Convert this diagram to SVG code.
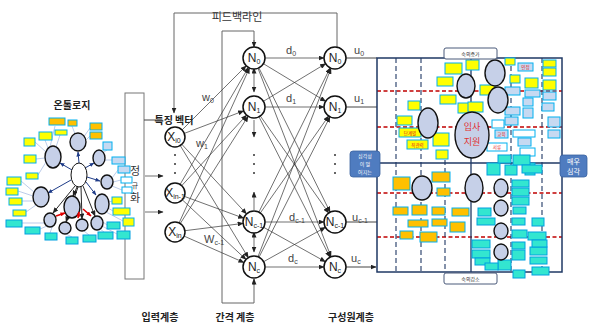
<svg xmlns="http://www.w3.org/2000/svg" width="589" height="327" viewBox="0 0 589 327">
<defs>
<marker id="ar" markerWidth="6" markerHeight="5" refX="5.5" refY="2.5" orient="auto" markerUnits="userSpaceOnUse"><path d="M0,0 L6,2.5 L0,5 z" fill="#222"/></marker>
<marker id="arb" markerWidth="5" markerHeight="4" refX="4.5" refY="2" orient="auto" markerUnits="userSpaceOnUse"><path d="M0,0 L5,2 L0,4 z" fill="#1f3c88"/></marker>
<marker id="arr" markerWidth="5" markerHeight="4" refX="4.5" refY="2" orient="auto" markerUnits="userSpaceOnUse"><path d="M0,0 L5,2 L0,4 z" fill="#e00000"/></marker>
<marker id="ars" markerWidth="6" markerHeight="5" refX="0.5" refY="2.5" orient="auto-start-reverse" markerUnits="userSpaceOnUse"><path d="M0,0 L6,2.5 L0,5 z" fill="#222"/></marker>
</defs>
<style>
.kr{font-family:"Noto Sans CJK KR","Noto Sans",sans-serif}
.node{fill:#fff;stroke:#111;stroke-width:1.5}
.net{stroke:#333;stroke-width:0.7;fill:none}
.fb{stroke:#666;stroke-width:1;fill:none}
.lbl{font-family:"Liberation Sans",Arial,sans-serif;font-size:12px;fill:#222;text-anchor:middle}
.sub{font-size:7px}
.wl{font-family:"Liberation Sans",Arial,sans-serif;font-size:11px;fill:#444}
.bold{font-family:"Noto Sans CJK KR",sans-serif;font-weight:bold;font-size:10px;fill:#222;text-anchor:middle}
.ell{fill:#c6d0e8;stroke:#111;stroke-width:1.4}
.oc{fill:#fff;stroke:#111;stroke-width:1}
.yb{fill:#ffff00;stroke:#00b0f0;stroke-width:1}
.ob{fill:#ffc000;stroke:#00b0f0;stroke-width:1}
.lb{fill:#c6d9f1;stroke:#00b0f0;stroke-width:1}
.wb{fill:#ffffff;stroke:#00b0f0;stroke-width:1}
.tb{fill:#33e6d0;stroke:#00a0e0;stroke-width:1}
.ol{stroke:#8ea9db;stroke-width:0.6;fill:none}
.on{stroke:#1f3c88;stroke-width:1;fill:none}
.border{stroke:#1f3864;stroke-width:1.5;fill:none}
.vd{stroke:#1f3864;stroke-width:1.1;stroke-dasharray:5,3;fill:none}
.rd{stroke:#c00000;stroke-width:1.5;stroke-dasharray:4,2.5;fill:none}
.rt{font-family:"Noto Sans CJK KR",sans-serif;font-size:4.5px;fill:#e02020;text-anchor:middle}
.bt{font-family:"Noto Sans CJK KR",sans-serif;fill:#fff;text-anchor:middle}
</style>
<rect width="589" height="327" fill="#fff"/>

<!-- normalization box -->
<g id="normalize">
<rect x="125" y="93" width="19" height="186" fill="#fff" stroke="#777" stroke-width="1"/>
<text x="135" y="175" class="kr" font-size="11" fill="#333" text-anchor="middle">정</text>
<text x="135" y="188" class="kr" font-size="7" fill="#333" text-anchor="middle">규</text>
<text x="135" y="202" class="kr" font-size="11" fill="#333" text-anchor="middle">화</text>
</g>

<!-- ontology -->
<g id="ontology">
<text x="72" y="109" class="bold" font-size="12">온톨로지</text>
<g class="ol">
<line x1="50" y1="147" x2="55" y2="126"/><line x1="75" y1="134" x2="72" y2="126"/><line x1="83" y1="138" x2="90" y2="128"/><line x1="84" y1="142" x2="90" y2="136"/>
<line x1="48" y1="148" x2="45" y2="140"/><line x1="56" y1="147" x2="60" y2="135"/><line x1="46" y1="152" x2="35" y2="142"/><line x1="45" y1="158" x2="36" y2="159"/>
<line x1="46" y1="162" x2="38" y2="175"/><line x1="34" y1="192" x2="21" y2="181"/><line x1="33" y1="196" x2="18" y2="191"/><line x1="34" y1="201" x2="22" y2="201"/><line x1="36" y1="205" x2="26" y2="212"/>
<line x1="104" y1="152" x2="107" y2="150"/><line x1="105" y1="160" x2="112" y2="160"/><line x1="112" y1="178" x2="118" y2="170"/><line x1="113" y1="182" x2="121" y2="180"/><line x1="112" y1="186" x2="122" y2="190"/>
<line x1="108" y1="202" x2="113" y2="201"/><line x1="108" y1="208" x2="113" y2="211"/><line x1="106" y1="212" x2="123" y2="221"/>
<line x1="44" y1="223" x2="22" y2="223"/><line x1="47" y1="226" x2="40" y2="229"/><line x1="52" y1="227" x2="50" y2="233"/><line x1="66" y1="234" x2="72" y2="237"/><line x1="84" y1="231" x2="89" y2="235"/><line x1="100" y1="229" x2="104" y2="232"/><line x1="103" y1="222" x2="107" y2="225"/><line x1="102" y1="226" x2="117" y2="234"/>
</g>
<g class="on">
<line x1="72" y1="170" x2="60" y2="163" marker-end="url(#arb)"/>
<line x1="79" y1="163" x2="78" y2="152" marker-end="url(#arb)"/>
<line x1="85" y1="168" x2="94" y2="163" marker-end="url(#arb)"/>
<line x1="87" y1="177" x2="100" y2="181" marker-end="url(#arb)"/>
<line x1="86" y1="182" x2="96" y2="195" marker-end="url(#arb)"/>
<line x1="71" y1="180" x2="48" y2="193" marker-end="url(#arb)"/>
</g>
<g stroke="#111" stroke-width="0.9" fill="none">
<line x1="77" y1="187" x2="73" y2="196" marker-end="url(#ar)"/>
<line x1="75" y1="186" x2="53" y2="213" marker-end="url(#ar)"/>
<line x1="78" y1="187" x2="66" y2="222" marker-end="url(#ar)"/>
<line x1="81" y1="187" x2="82" y2="219" marker-end="url(#ar)"/>
<line x1="83" y1="186" x2="95" y2="216" marker-end="url(#ar)"/>
</g>
<ellipse cx="79" cy="175" rx="8" ry="12" class="oc"/>
<ellipse cx="53" cy="157" rx="8" ry="11" class="ell"/>
<ellipse cx="78" cy="142" rx="8" ry="9" class="ell"/>
<ellipse cx="99" cy="158" rx="6" ry="8" class="ell"/>
<ellipse cx="107" cy="182" rx="6" ry="7" class="ell"/>
<ellipse cx="102" cy="204" rx="7" ry="10" class="ell"/>
<ellipse cx="72" cy="207" rx="8" ry="11" class="ell"/>
<ellipse cx="41" cy="197" rx="8" ry="10" class="ell"/>
<ellipse cx="50" cy="220" rx="6" ry="7" class="ell"/>
<ellipse cx="65" cy="228" rx="6" ry="6" class="ell"/>
<ellipse cx="82" cy="225" rx="6" ry="6" class="ell"/>
<ellipse cx="97" cy="223" rx="6" ry="7" class="ell"/>
<g stroke="#e00000" stroke-width="1.6" fill="none">
<line x1="56" y1="216" x2="65" y2="213" marker-end="url(#arr)"/>
<line x1="78" y1="218" x2="79" y2="212" marker-end="url(#arr)"/>
<line x1="83" y1="209" x2="91" y2="216" marker-end="url(#arr)"/>
</g>
<rect x="49" y="118" width="16" height="7" class="ob"/><rect x="68" y="120" width="9" height="6" class="ob"/>
<rect x="90" y="123" width="12" height="7" class="ob"/><rect x="90" y="132" width="12" height="7" class="ob"/>
<rect x="39" y="132" width="13" height="8" class="yb"/><rect x="55" y="130" width="12" height="5" class="yb"/>
<rect x="24" y="138" width="11" height="8" class="yb"/><rect x="24" y="155" width="12" height="8" class="yb"/>
<rect x="26" y="173" width="12" height="6" class="yb"/><rect x="7" y="177" width="14" height="8" class="yb"/>
<rect x="6" y="188" width="12" height="7" class="yb"/><rect x="9" y="198" width="13" height="7" class="yb"/>
<rect x="13" y="210" width="13" height="6" class="yb"/><rect x="113" y="208" width="17" height="7" class="yb"/>
<rect x="123" y="218" width="11" height="8" class="yb"/><rect x="112" y="197" width="10" height="7" class="yb"/>
<rect x="103" y="142" width="9" height="8" class="lb"/><rect x="112" y="157" width="13" height="7" class="lb"/>
<rect x="118" y="166" width="12" height="7" class="lb"/><rect x="121" y="177" width="11" height="6" class="wb"/>
<rect x="122" y="187" width="10" height="6" class="wb"/>
<rect x="6" y="220" width="16" height="7" class="tb"/><rect x="25" y="227" width="15" height="7" class="tb"/>
<rect x="45" y="233" width="12" height="7" class="tb"/><rect x="66" y="237" width="12" height="7" class="tb"/>
<rect x="83" y="235" width="13" height="7" class="tb"/><rect x="98" y="232" width="15" height="7" class="tb"/>
<rect x="107" y="222" width="13" height="7" class="tb"/><rect x="117" y="231" width="13" height="8" class="tb"/>
</g>

<!-- connectors of the network -->
<g id="connectors">
<line x1="144" y1="120" x2="156" y2="120" stroke="#444" stroke-width="1"/>
<line x1="145" y1="176" x2="163" y2="176" class="net" stroke-width="1" marker-end="url(#ar)"/>
<line x1="145" y1="212" x2="163" y2="212" class="net" stroke-width="1" marker-end="url(#ar)"/>
<polyline points="337,47 337,13 174,13 174,113" class="fb" marker-end="url(#ar)"/>
<polyline points="254,46 254,31 222,31 222,303 254,303 254,279" class="fb"/>
<line x1="254" y1="40" x2="254" y2="47" class="fb" marker-end="url(#ar)"/>
<line x1="254" y1="285" x2="254" y2="279" class="fb" marker-end="url(#ar)"/>
<g class="net" marker-end="url(#ar)">
<line x1="182.1" y1="129.9" x2="246.2" y2="65.8"/>
<line x1="184.3" y1="133.4" x2="243.7" y2="110.9"/>
<line x1="181.8" y1="144.3" x2="246.5" y2="213.9"/>
<line x1="180.2" y1="145.5" x2="248.3" y2="257.6"/>
<line x1="180.1" y1="184.4" x2="248.4" y2="67.5"/>
<line x1="181.8" y1="185.6" x2="246.6" y2="115.1"/>
<line x1="184.4" y1="196.4" x2="243.7" y2="218.2"/>
<line x1="182.3" y1="199.8" x2="246.0" y2="259.5"/>
<line x1="179.1" y1="222.9" x2="249.5" y2="68.0"/>
<line x1="180.3" y1="223.5" x2="248.1" y2="116.3"/>
<line x1="184.9" y1="230.7" x2="243.1" y2="223.4"/>
<line x1="184.1" y1="236.1" x2="243.9" y2="262.5"/>
<line x1="265" y1="58" x2="324" y2="58"/>
<line x1="263.4" y1="63.7" x2="325.6" y2="101.3"/>
<line x1="258.9" y1="67.9" x2="330.1" y2="212.1"/>
<line x1="258.0" y1="68.3" x2="331.0" y2="256.7"/>
<line x1="263.4" y1="101.3" x2="325.6" y2="63.7"/>
<line x1="265" y1="107" x2="324" y2="107"/>
<line x1="260.3" y1="116.0" x2="328.7" y2="213.0"/>
<line x1="259.0" y1="116.8" x2="330.0" y2="257.2"/>
<line x1="258.9" y1="212.1" x2="330.1" y2="67.9"/>
<line x1="260.3" y1="213.0" x2="328.7" y2="116.0"/>
<line x1="265" y1="222" x2="324" y2="222"/>
<line x1="263.6" y1="227.3" x2="325.4" y2="261.7"/>
<line x1="258.0" y1="256.7" x2="331.0" y2="68.3"/>
<line x1="259.0" y1="257.2" x2="330.0" y2="116.8"/>
<line x1="263.6" y1="261.7" x2="325.4" y2="227.3"/>
<line x1="265" y1="267" x2="324" y2="267"/>
</g>
<g class="net" stroke-width="0.9">
<line x1="254" y1="73" x2="254" y2="92" marker-start="url(#ars)" marker-end="url(#ar)"/>
<line x1="254" y1="120" x2="254" y2="137" marker-end="url(#ar)"/>
<line x1="254" y1="210" x2="254" y2="192" marker-end="url(#ar)"/>
<line x1="254" y1="237" x2="254" y2="252" marker-start="url(#ars)" marker-end="url(#ar)"/>
</g>
<g stroke="#444" stroke-width="1">
<line x1="346" y1="58" x2="377" y2="58"/>
<line x1="346" y1="107" x2="377" y2="107"/>
<line x1="346" y1="222" x2="377" y2="222"/>
<line x1="346" y1="267" x2="376" y2="267" marker-end="url(#ar)"/>
</g>
<g fill="#333">
<circle cx="175" cy="155" r="1"/><circle cx="175" cy="164" r="1"/><circle cx="175" cy="173" r="1"/>
<circle cx="254" cy="155" r="1"/><circle cx="254" cy="164" r="1"/><circle cx="254" cy="173" r="1"/>
<circle cx="335" cy="155" r="1"/><circle cx="335" cy="164" r="1"/><circle cx="335" cy="173" r="1"/>
</g>
</g>

<text x="237" y="21" class="kr" font-size="11" fill="#333" text-anchor="middle">피드백라인</text>
<text x="174" y="124" class="bold" font-size="10">특징 벡터</text>

<!-- input nodes -->
<g id="x0"><circle cx="175" cy="137" r="10" class="node"/><text x="174" y="141" class="lbl" font-size="11">X<tspan class="sub" dy="2">i0</tspan></text></g>
<g id="x1"><circle cx="175" cy="193" r="10" class="node"/><text x="175" y="197" class="lbl" font-size="11">X<tspan class="sub" dy="2">in-1</tspan></text></g>
<g id="x2"><circle cx="175" cy="232" r="10" class="node"/><text x="175" y="236" class="lbl" font-size="11">X<tspan class="sub" dy="2">in</tspan></text></g>
<!-- hidden nodes -->
<g id="h0"><circle cx="254" cy="58" r="11" class="node"/><text x="254" y="62" class="lbl">N<tspan class="sub" dy="2">0</tspan></text></g>
<g id="h1"><circle cx="254" cy="107" r="11" class="node"/><text x="254" y="111" class="lbl">N<tspan class="sub" dy="2">1</tspan></text></g>
<g id="h2"><circle cx="254" cy="222" r="11" class="node"/><text x="254" y="226" class="lbl">N<tspan class="sub" dy="2">c-1</tspan></text></g>
<g id="h3"><circle cx="254" cy="267" r="11" class="node"/><text x="254" y="271" class="lbl">N<tspan class="sub" dy="2">c</tspan></text></g>
<!-- output nodes -->
<g id="o0"><circle cx="335" cy="58" r="11" class="node"/><text x="335" y="62" class="lbl">N<tspan class="sub" dy="2">0</tspan></text></g>
<g id="o1"><circle cx="335" cy="107" r="11" class="node"/><text x="335" y="111" class="lbl">N<tspan class="sub" dy="2">1</tspan></text></g>
<g id="o2"><circle cx="335" cy="222" r="11" class="node"/><text x="335" y="226" class="lbl">N<tspan class="sub" dy="2">c-1</tspan></text></g>
<g id="o3"><circle cx="335" cy="267" r="11" class="node"/><text x="335" y="271" class="lbl">N<tspan class="sub" dy="2">c</tspan></text></g>

<!-- weight labels -->
<text x="202" y="101" class="wl">w<tspan font-size="7" dy="2">0</tspan></text>
<text x="196" y="147" class="wl">w<tspan font-size="7" dy="2">1</tspan></text>
<text x="204" y="243" class="wl">W<tspan font-size="7" dy="2">c-1</tspan></text>
<text x="286" y="54" class="wl">d<tspan font-size="7" dy="2">0</tspan></text>
<text x="286" y="102" class="wl">d<tspan font-size="7" dy="2">1</tspan></text>
<text x="289" y="221" class="wl">d<tspan font-size="7" dy="2">c-1</tspan></text>
<text x="288" y="262" class="wl">d<tspan font-size="7" dy="2">c</tspan></text>
<text x="354" y="54" class="wl">u<tspan font-size="7" dy="2">0</tspan></text>
<text x="354" y="102" class="wl">u<tspan font-size="7" dy="2">1</tspan></text>
<text x="352" y="221" class="wl">u<tspan font-size="7" dy="2">c-1</tspan></text>
<text x="351" y="262" class="wl">u<tspan font-size="7" dy="2">c</tspan></text>

<!-- layer labels -->
<text x="160" y="321" class="bold">입력계층</text>
<text x="235" y="321" class="bold">간격 계층</text>
<text x="351" y="321" class="bold">구성원계층</text>

<!-- right panel -->
<g id="panel">
<line x1="377" y1="91" x2="562" y2="91" class="rd"/>
<line x1="377" y1="127" x2="562" y2="127" class="rd"/>
<line x1="377" y1="193" x2="562" y2="193" class="rd"/>
<line x1="377" y1="237" x2="562" y2="237" class="rd"/>
<line x1="396" y1="58" x2="396" y2="272" class="vd"/>
<line x1="421" y1="58" x2="421" y2="272" class="vd"/>
<line x1="445" y1="160" x2="445" y2="272" class="vd"/>
<line x1="511" y1="58" x2="511" y2="272" class="vd"/>
<line x1="542" y1="58" x2="542" y2="272" class="vd"/>
<line x1="471" y1="58" x2="471" y2="272" stroke="#1f3864" stroke-width="1.3"/>
<line x1="377" y1="163" x2="562" y2="163" stroke="#1f3864" stroke-width="1.5"/>
<rect x="377" y="58" width="185" height="214" class="border"/>

<rect x="445" y="63" width="17" height="11" class="yb"/><rect x="437" y="77" width="16" height="9" class="yb"/>
<rect x="440" y="95" width="16" height="9" class="yb"/><rect x="458" y="103" width="16" height="10" class="yb"/>
<rect x="408" y="101" width="12" height="9" class="yb"/><rect x="397" y="116" width="15" height="9" class="yb"/>
<rect x="399" y="128" width="22" height="9" class="yb"/><rect x="407" y="140" width="21" height="9" class="yb"/>
<rect x="433" y="133" width="16" height="13" class="yb"/><rect x="436" y="150" width="12" height="9" class="yb"/>
<text x="410" y="135" class="rt">단계별</text>
<text x="417.5" y="147" class="rt">직관력</text>
<rect x="466" y="60" width="13" height="10" class="yb"/><rect x="505" y="58" width="10" height="7" class="yb"/>
<rect x="510" y="75" width="10" height="8" class="yb"/><rect x="525" y="78" width="13" height="10" class="yb"/>
<rect x="543" y="60" width="13" height="7" class="yb"/><rect x="543" y="68" width="13" height="8" class="yb"/>
<rect x="543" y="80" width="13" height="10" class="yb"/><rect x="480" y="85" width="15" height="10" class="yb"/>
<rect x="468" y="102" width="15" height="10" class="yb"/>
<rect x="518" y="63" width="15" height="8" class="lb"/>
<text x="525.5" y="69" class="rt">인정</text>
<rect x="505" y="87" width="15" height="8" class="lb"/><rect x="525" y="90" width="15" height="7" class="lb"/>
<rect x="543" y="92" width="13" height="8" class="lb"/><rect x="505" y="107" width="15" height="8" class="lb"/>
<rect x="523" y="98" width="10" height="8" class="lb"/><rect x="523" y="108" width="10" height="10" class="lb"/>
<rect x="505" y="117" width="13" height="8" class="lb"/><rect x="542" y="103" width="12" height="8" class="lb"/>
<rect x="548" y="117" width="12" height="10" class="lb"/><rect x="492" y="120" width="12" height="8" class="wb"/>
<rect x="495" y="130" width="13" height="8" class="lb"/><rect x="513" y="130" width="22" height="7" class="wb"/>
<rect x="548" y="130" width="12" height="8" class="lb"/><rect x="487" y="143" width="20" height="8" class="wb"/>
<rect x="520" y="148" width="15" height="8" class="wb"/><rect x="518" y="138" width="13" height="8" class="lb"/>
<text x="501.5" y="136" class="rt">교육</text>
<text x="497" y="149" class="rt">서류</text>
<rect x="393" y="177" width="17" height="13" class="ob"/><rect x="432" y="172" width="18" height="10" class="ob"/>
<rect x="437" y="188" width="13" height="8" class="ob"/><rect x="393" y="207" width="15" height="8" class="ob"/>
<rect x="412" y="205" width="15" height="10" class="ob"/><rect x="432" y="207" width="13" height="8" class="ob"/>
<rect x="452" y="208" width="17" height="8" class="ob"/><rect x="408" y="220" width="20" height="7" class="ob"/>
<rect x="432" y="219" width="15" height="7" class="ob"/><rect x="450" y="222" width="15" height="10" class="ob"/>
<rect x="400" y="231" width="13" height="8" class="ob"/><rect x="420" y="232" width="17" height="10" class="ob"/>
<rect x="487" y="163" width="13" height="12" class="tb"/><rect x="505" y="165" width="12" height="10" class="tb"/>
<rect x="525" y="163" width="10" height="12" class="tb"/><rect x="498" y="155" width="13" height="8" class="tb"/>
<rect x="513" y="155" width="17" height="10" class="tb"/><rect x="522" y="165" width="20" height="8" class="tb"/>
<rect x="512" y="180" width="17" height="7" class="tb"/><rect x="512" y="188" width="17" height="8" class="tb"/>
<rect x="512" y="197" width="17" height="8" class="tb"/><rect x="513" y="207" width="13" height="7" class="tb"/>
<rect x="477" y="218" width="18" height="7" class="tb"/><rect x="478" y="208" width="13" height="8" class="tb"/>
<rect x="512" y="218" width="13" height="7" class="tb"/><rect x="532" y="218" width="12" height="8" class="tb"/>
<rect x="528" y="232" width="18" height="8" class="tb"/><rect x="512" y="230" width="15" height="8" class="tb"/>
<rect x="472" y="240" width="18" height="8" class="tb"/><rect x="472" y="250" width="18" height="8" class="tb"/>
<rect x="475" y="258" width="15" height="7" class="tb"/><rect x="512" y="242" width="13" height="7" class="tb"/>
<rect x="512" y="250" width="13" height="10" class="tb"/><rect x="530" y="247" width="17" height="8" class="tb"/>
<rect x="530" y="257" width="17" height="7" class="tb"/><rect x="532" y="267" width="17" height="8" class="tb"/>
<rect x="498" y="260" width="13" height="10" class="tb"/><rect x="485" y="263" width="13" height="7" class="tb"/>
<rect x="513" y="270" width="12" height="8" class="tb"/><rect x="532" y="240" width="15" height="7" class="tb"/>

<ellipse cx="466" cy="86" rx="9" ry="12" class="ell"/>
<ellipse cx="495" cy="73" rx="10" ry="13" class="ell"/>
<ellipse cx="498" cy="100" rx="10" ry="13" class="ell"/>
<ellipse cx="428" cy="123" rx="10" ry="15" class="ell"/>
<ellipse cx="422" cy="188" rx="10" ry="12" class="ell"/>
<ellipse cx="474" cy="188" rx="9" ry="14" class="ell"/>
<ellipse cx="501" cy="188" rx="7" ry="9" class="ell"/>
<ellipse cx="501" cy="208" rx="7" ry="8" class="ell"/>
<ellipse cx="501" cy="231" rx="7" ry="8" class="ell"/>
<ellipse cx="501" cy="252" rx="7" ry="8" class="ell"/>
<g id="apply">
<ellipse cx="472" cy="135" rx="17" ry="23" class="ell"/>
<text x="472" y="130" class="kr" font-size="9" fill="#e03030" text-anchor="middle">입사</text>
<text x="472" y="145" class="kr" font-size="9" fill="#e03030" text-anchor="middle">지원</text>
</g>
<g id="inc">
<rect x="444" y="48" width="53" height="11" rx="2" fill="#fff" stroke="#4a5a7a" stroke-width="1"/>
<text x="470.5" y="55.5" class="kr" font-size="5" fill="#333" text-anchor="middle">숙의증가</text>
</g>
<g id="dec">
<rect x="444" y="273" width="53" height="11" rx="2" fill="#fff" stroke="#4a5a7a" stroke-width="1"/>
<text x="470.5" y="280.5" class="kr" font-size="5" fill="#333" text-anchor="middle">숙의감소</text>
</g>
<g id="left-box">
<rect x="350" y="151" width="30" height="26" rx="3" fill="#4f7cc0" stroke="#3a62a0" stroke-width="0.8"/>
<text x="365" y="158" class="bt" font-size="5">심각성</text>
<text x="365" y="166" class="bt" font-size="5">이 멀</text>
<text x="365" y="174" class="bt" font-size="5">어지는</text>
</g>
<g id="right-box">
<rect x="560" y="155" width="27" height="22" rx="3" fill="#4f7cc0" stroke="#3a62a0" stroke-width="0.8"/>
<text x="573.5" y="164" class="bt" font-size="7">매우</text>
<text x="573.5" y="174" class="bt" font-size="7">심각</text>
</g>
</g>
</svg>
